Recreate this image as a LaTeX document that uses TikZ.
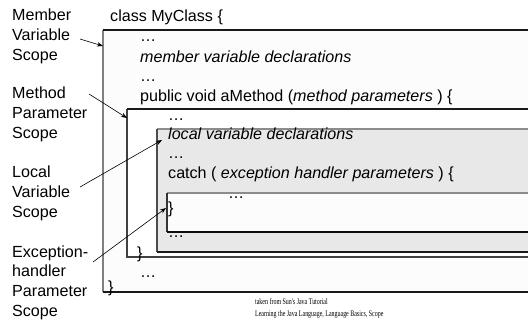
\documentclass[tikz,border=0pt]{standalone}
\usepackage{fontspec}
\usepackage{graphicx}
\setmainfont{Liberation Sans}
\newfontfamily\timesf{Liberation Serif}
\usetikzlibrary{arrows.meta}
\begin{document}
\begin{tikzpicture}[x=1pt,y=-1pt,
  txt/.style={anchor=base west,inner sep=0pt,font=\fontsize{16.1}{18}\selectfont},
  lbl/.style={anchor=base west,inner sep=0pt,align=left,font=\fontsize{16.1}{19.6}\selectfont},
  note/.style={anchor=base west,inner sep=0pt,align=left,font=\timesf\fontsize{8.5}{12.5}\selectfont},
  ptr/.style={-{Stealth[length=6pt,width=4.5pt]},line width=0.6pt},
  edge/.style={line width=1.2pt},
]
\useasboundingbox (0,0) rectangle (528,322);
\fill[white] (0,0) rectangle (528,322);
\begin{scope}
\clip (0,0) rectangle (528,322);
% outer box (member variable scope)
\fill[white!99!black] (103,30) rectangle (560,292);
\draw[edge,black!50] (103,30) -- (103,292);
\draw[edge,black!90] (103,30) -- (560,30);
\draw[edge,black!90] (103,292) -- (560,292);
% method box
\fill[white] (127,109) rectangle (560,257);
\draw[edge,black!75] (127,109) -- (127,257) -- (560,257);
\draw[edge,black!90] (127,109) -- (560,109);
% local box
\fill[black!9] (157,129) rectangle (560,252);
\draw[edge,black!45] (157,129) -- (560,129);
\draw[edge,black!70] (157,129) -- (157,252);
\draw[edge,black!90] (157,252) -- (560,252);
% exception box
\fill[white!99!black] (167,193) rectangle (560,232);
\draw[edge,black!45] (167,193) -- (560,193);
\draw[edge,black!80] (167,193) -- (167,232);
\draw[edge,black!95] (167,232) -- (560,232);
\end{scope}
% code text
\node[txt] (c1) at (110,21) {class MyClass \{};
\node[txt] (c2) at (140,41) {\dots};
\node[txt] (c3) at (140,62) {\itshape member variable declarations};
\node[txt] (c4) at (140,81) {\dots};
\node[txt] (c5) at (140,101) {public void aMethod (\textit{method parameters} ) \{};
\node[txt] (c6) at (168,120) {\dots};
\node[txt] (c7) at (168,139) {\itshape local variable declarations};
\node[txt] (c8) at (168,158) {\dots};
\node[txt] (c9) at (168,178) {catch ( \textit{exception handler parameters} ) \{};
\node[txt] (c10) at (228,198) {\dots};
\node[txt] (c11) at (168,213) {\}};
\node[txt] (c12) at (168,237) {\dots};
\node[txt] (c13) at (137,258) {\}};
\node[txt] (c14) at (140,277) {\dots};
\node[txt] (c15) at (108,292) {\}};
% labels (anchored at the baseline of their last line)
\node[lbl] (l1) at (12,60) {Member\\Variable\\Scope};
\node[lbl] (l2) at (12,138) {Method\\Parameter\\Scope};
\node[lbl] (l3) at (12,217) {Local\\Variable\\Scope};
\node[lbl] (l4) at (12,316) {Exception-\\handler\\Parameter\\Scope};
% arrows
\coordinate (s1) at (80,39);
\coordinate (t1) at (103,46);
\coordinate (s2) at (89,94);
\coordinate (t2) at (127,118);
\coordinate (s3) at (80,187);
\coordinate (t3) at (162,140);
\coordinate (s4) at (93,262);
\coordinate (t4) at (166,208);
\draw[ptr] (s1) -- (t1);
\draw[ptr] (s2) -- (t2);
\draw[ptr] (s3) -- (t3);
\draw[ptr] (s4) -- (t4);
% footnote
\node[note] (n1) at (255,304) {\scalebox{0.7}[1]{taken from Sun's Java Tutorial}};
\node[note] (n2) at (255,316.5) {\scalebox{0.7}[1]{Learning the Java Language, Language Basics, Scope}};
\end{tikzpicture}
\end{document}
